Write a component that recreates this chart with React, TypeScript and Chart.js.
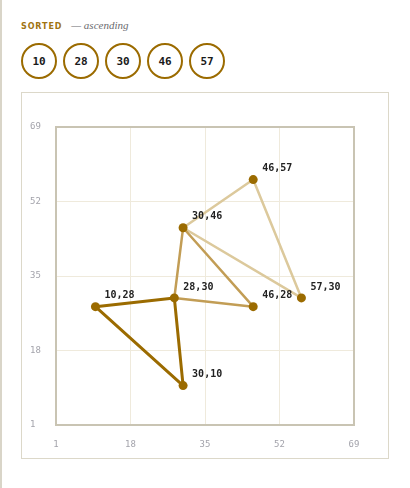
import React, { useEffect, useRef } from "react";
import { Chart, registerables } from "chart.js";

Chart.register(...registerables);

const sortedValues = [10, 28, 30, 46, 57];
const axisMin = 1;
const axisMax = 69;
const axisStep = 17;

const triDarkX = [10, 28, 30];
const triDarkY = [28, 30, 10];
const triMidX = [28, 30, 46];
const triMidY = [30, 46, 28];
const triLightX = [30, 46, 57];
const triLightY = [46, 57, 30];

const pointX = [10, 28, 30, 46, 46, 57, 30];
const pointY = [28, 30, 46, 57, 28, 30, 10];

const GOLD = "#9b6b00";
const MID = "#c29d55";
const LIGHT = "#dcc99c";

function closed(xs: number[], ys: number[]) {
  const pts = xs.map((x, i) => ({ x, y: ys[i] }));
  pts.push({ ...pts[0] });
  return pts;
}

const frameBorder = {
  id: "frameBorder",
  beforeDatasetsDraw(chart: any) {
    const { ctx, chartArea } = chart;
    ctx.save();
    ctx.strokeStyle = "#c9c4b3";
    ctx.lineWidth = 2;
    ctx.strokeRect(chartArea.left, chartArea.top, chartArea.right - chartArea.left, chartArea.bottom - chartArea.top);
    ctx.restore();
  },
};

const pointLabels = {
  id: "pointLabels",
  afterDatasetsDraw(chart: any) {
    const { ctx } = chart;
    const idx = chart.data.datasets.findIndex((d: any) => d.label === "points");
    const meta = chart.getDatasetMeta(idx);
    ctx.save();
    ctx.font = "bold 10px 'DejaVu Sans Mono', monospace";
    ctx.fillStyle = "#222";
    ctx.textAlign = "left";
    ctx.textBaseline = "middle";
    meta.data.forEach((el: any, i: number) => {
      ctx.fillText(`${pointX[i]},${pointY[i]}`, el.x + 9, el.y - 11);
    });
    ctx.restore();
  },
};

function ChartPanel() {
  const ref = useRef<HTMLCanvasElement | null>(null);
  useEffect(() => {
    if (!ref.current) return;
    const lineDs = (label: string, xs: number[], ys: number[], color: string, width: number, order: number) => ({
      label,
      data: closed(xs, ys),
      showLine: true,
      borderColor: color,
      borderWidth: width,
      pointRadius: 0,
      borderJoinStyle: "round",
      borderCapStyle: "round",
      fill: false,
      order,
    });
    const chart = new Chart(ref.current, {
      type: "scatter",
      data: {
        datasets: [
          lineDs("light", triLightX, triLightY, LIGHT, 2.5, 3),
          lineDs("mid", triMidX, triMidY, MID, 2.5, 2),
          lineDs("dark", triDarkX, triDarkY, GOLD, 3, 1),
          {
            label: "points",
            data: pointX.map((x, i) => ({ x, y: pointY[i] })),
            showLine: false,
            pointRadius: 4.5,
            pointBackgroundColor: GOLD,
            pointBorderWidth: 0,
            order: 0,
          } as any,
        ] as any,
      },
      options: {
        responsive: false,
        animation: false,
        devicePixelRatio: 1,
        layout: { padding: { left: 8, right: 34, top: 34, bottom: 0 } },
        plugins: { legend: { display: false }, tooltip: { enabled: false } },
        scales: {
          x: {
            type: "linear",
            min: axisMin,
            max: axisMax,
            ticks: {
              stepSize: axisStep,
              color: "#a3a3ab",
              font: { family: "'DejaVu Sans Mono', monospace", size: 9 },
              padding: 14,
            },
            grid: { color: "#efeadc", drawTicks: false, lineWidth: 1 },
            border: { display: false },
            afterFit: (s: any) => {
              s.height = 33;
            },
          },
          y: {
            type: "linear",
            min: axisMin,
            max: axisMax,
            ticks: {
              stepSize: axisStep,
              color: "#a3a3ab",
              font: { family: "'DejaVu Sans Mono', monospace", size: 9 },
              crossAlign: "far",
            },
            grid: { color: "#efeadc", drawTicks: false, lineWidth: 1 },
            border: { display: false },
            afterFit: (s: any) => {
              s.width = 26;
            },
          },
        },
      } as any,
      plugins: [frameBorder, pointLabels],
    });
    return () => chart.destroy();
  }, []);
  return <canvas ref={ref} width={366} height={365} style={{ position: "absolute", left: 0, top: 0 }} />;
}

export default function App() {
  return (
    <div style={{ position: "absolute", left: 0, top: 0, width: 410, height: 488, background: "#fff" }}>
      <div style={{ position: "absolute", left: 0, top: 0, width: 2, height: 488, background: "#d9d5c8" }} />
      <div
        style={{
          position: "absolute",
          left: 21,
          top: 19,
          whiteSpace: "nowrap",
          display: "flex",
          alignItems: "baseline",
        }}
      >
        <span
          style={{
            fontFamily: "'DejaVu Sans', sans-serif",
            fontWeight: 700,
            fontSize: 8,
            letterSpacing: 0.9,
            color: "#a07412",
          }}
        >
          SORTED
        </span>
        <span
          style={{
            marginLeft: 9,
            fontFamily: "'Liberation Serif', serif",
            fontStyle: "italic",
            fontSize: 11,
            color: "#6b6b70",
          }}
        >
          — ascending
        </span>
      </div>
      {sortedValues.map((v, i) => (
        <div
          key={i}
          style={{
            position: "absolute",
            left: 21 + i * 42,
            top: 43,
            width: 36,
            height: 36,
            boxSizing: "border-box",
            border: `2px solid ${GOLD}`,
            borderRadius: "50%",
            display: "flex",
            alignItems: "center",
            justifyContent: "center",
            fontFamily: "'DejaVu Sans Mono', monospace",
            fontWeight: 700,
            fontSize: 11,
            color: "#1a1a1a",
          }}
        >
          {v}
        </div>
      ))}
      <div
        style={{
          position: "absolute",
          left: 21,
          top: 92,
          width: 368,
          height: 367,
          boxSizing: "border-box",
          border: "1px solid #dcd8c9",
        }}
      >
        <ChartPanel />
      </div>
    </div>
  );
}
